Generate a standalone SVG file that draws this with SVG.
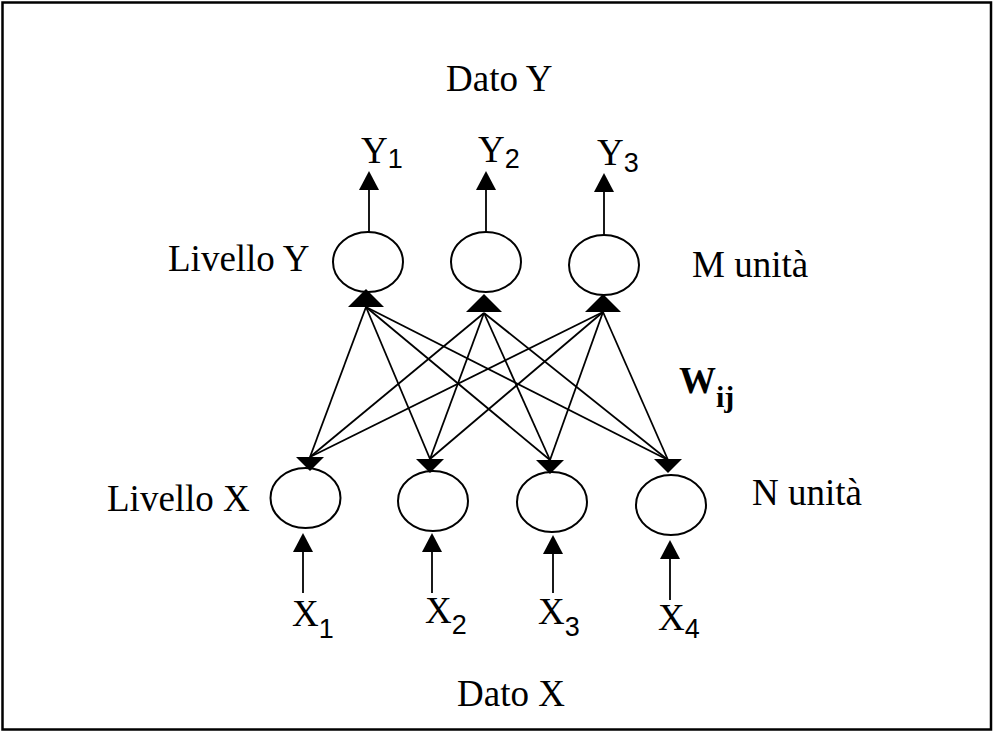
<svg xmlns="http://www.w3.org/2000/svg" xmlns:xlink="http://www.w3.org/1999/xlink" width="993" height="732" viewBox="0 0 993 732">
  <style>
    .frame { fill: #fff; stroke: #000; stroke-width: 2.5; }
    .unit { fill: #fff; stroke: #000; stroke-width: 2; }
    .wire { stroke: #000; stroke-width: 1.8; fill: none; }
    .head { fill: #000; }
    .lbl { font-family: "Liberation Serif", "Times New Roman", serif; font-size: 37px; fill: #000; }
    .sub { font-family: "Liberation Sans", Arial, sans-serif; font-size: 27px; }
    .w { font-weight: bold; }
  </style>
  <defs>
    <!-- upward arrowhead, tip at origin -->
    <path id="tipUp" class="head" d="M0,0 L10,19 L-10,19 Z"/>
    <!-- wide upward head where the weight lines meet a Y unit -->
    <path id="fanUp" class="head" d="M0,0 L18,18 L-18,18 Z"/>
    <!-- downward head where the weight lines meet an X unit -->
    <path id="fanDown" class="head" d="M0,0 L14,-14 L-14,-14 Z"/>
  </defs>

  <rect class="frame" x="2.5" y="2.5" width="988.5" height="727"/>

  <!-- layer and data labels -->
  <g id="labels">
    <text class="lbl" x="446" y="91">Dato Y</text>
    <text class="lbl" x="168" y="271">Livello Y</text>
    <text class="lbl" x="692" y="277">M unità</text>
    <text class="lbl" x="107" y="511">Livello X</text>
    <text class="lbl" x="752" y="505">N unità</text>
    <text class="lbl" x="457" y="706">Dato X</text>
    <text class="lbl w" x="679" y="393">W<tspan class="w" font-size="30" dy="14">ij</tspan></text>
  </g>

  <!-- fully connected weights between layer X and layer Y -->
  <g id="connectors">
    <g class="wire">
      <line x1="366" y1="307" x2="310" y2="457"/>
      <line x1="366" y1="307" x2="430" y2="459"/>
      <line x1="366" y1="307" x2="550" y2="460"/>
      <line x1="366" y1="307" x2="668" y2="460"/>
      <line x1="484" y1="313" x2="310" y2="457"/>
      <line x1="484" y1="313" x2="430" y2="459"/>
      <line x1="484" y1="313" x2="550" y2="460"/>
      <line x1="484" y1="313" x2="668" y2="460"/>
      <line x1="603" y1="312" x2="310" y2="457"/>
      <line x1="603" y1="312" x2="430" y2="459"/>
      <line x1="603" y1="312" x2="550" y2="460"/>
      <line x1="603" y1="312" x2="668" y2="460"/>
      <!-- outputs -->
      <line x1="369" y1="232" x2="369" y2="185"/>
      <line x1="486" y1="232" x2="486" y2="185"/>
      <line x1="604" y1="235" x2="604" y2="187"/>
      <!-- inputs -->
      <line x1="303" y1="593" x2="303" y2="545"/>
      <line x1="432" y1="593" x2="432" y2="545"/>
      <line x1="553" y1="593" x2="553" y2="547"/>
      <line x1="670" y1="600" x2="670" y2="552"/>
    </g>
    <use xlink:href="#tipUp" x="369" y="171"/>
    <use xlink:href="#tipUp" x="486" y="171"/>
    <use xlink:href="#tipUp" x="604" y="173"/>
    <use xlink:href="#tipUp" x="303" y="533"/>
    <use xlink:href="#tipUp" x="432" y="533"/>
    <use xlink:href="#tipUp" x="553" y="535"/>
    <use xlink:href="#tipUp" x="670" y="540"/>
  </g>

  <!-- layer Y units -->
  <g id="y1">
    <ellipse class="unit" cx="368" cy="262" rx="35" ry="30"/>
    <use xlink:href="#fanUp" x="366" y="289"/>
    <text class="lbl" x="361" y="163">Y<tspan class="sub" dy="5">1</tspan></text>
  </g>
  <g id="y2">
    <ellipse class="unit" cx="486" cy="262" rx="35" ry="30"/>
    <use xlink:href="#fanUp" x="484" y="294"/>
    <text class="lbl" x="478" y="162">Y<tspan class="sub" dy="6">2</tspan></text>
  </g>
  <g id="y3">
    <ellipse class="unit" cx="604" cy="265" rx="35" ry="30"/>
    <use xlink:href="#fanUp" x="603" y="294"/>
    <text class="lbl" x="597" y="165">Y<tspan class="sub" dy="7">3</tspan></text>
  </g>

  <!-- layer X units -->
  <g id="x1">
    <ellipse class="unit" cx="305.5" cy="498" rx="35" ry="30"/>
    <use xlink:href="#fanDown" x="310" y="471"/>
    <text class="lbl" x="292" y="626">X<tspan class="sub" dy="12">1</tspan></text>
  </g>
  <g id="x2">
    <ellipse class="unit" cx="433" cy="501" rx="35" ry="30"/>
    <use xlink:href="#fanDown" x="430" y="473"/>
    <text class="lbl" x="425" y="623">X<tspan class="sub" dy="11">2</tspan></text>
  </g>
  <g id="x3">
    <ellipse class="unit" cx="552" cy="502" rx="35" ry="30"/>
    <use xlink:href="#fanDown" x="550" y="474"/>
    <text class="lbl" x="538" y="624">X<tspan class="sub" dy="12">3</tspan></text>
  </g>
  <g id="x4">
    <ellipse class="unit" cx="671" cy="505" rx="35" ry="30"/>
    <use xlink:href="#fanDown" x="668" y="473"/>
    <text class="lbl" x="658" y="630">X<tspan class="sub" dy="8">4</tspan></text>
  </g>
</svg>
